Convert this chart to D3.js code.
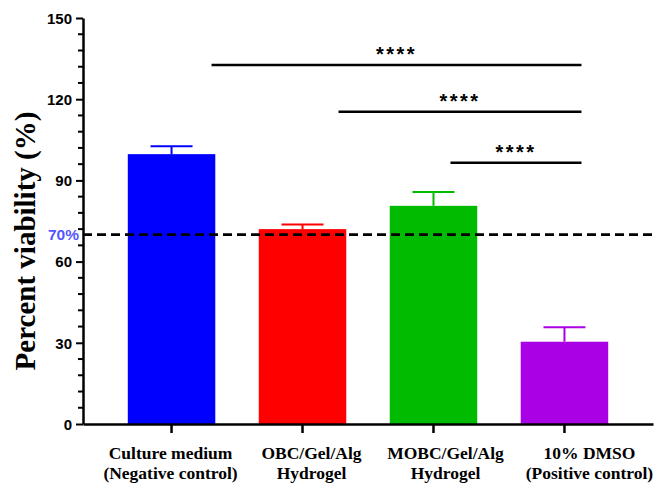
<!DOCTYPE html>
<html>
<head>
<meta charset="utf-8">
<script src="https://cdn.jsdelivr.net/npm/d3@7"></script>
<style>
  body { margin: 0; background: #fff; }
  svg { display: block; }
</style>
</head>
<body>
<div class="chart"></div>
<script>
// Data
var groups = ["Culture medium", "OBC/Gel/Alg", "MOBC/Gel/Alg", "10% DMSO"];
var groupSub = ["(Negative control)", "Hydrogel", "Hydrogel", "(Positive control)"];
var viability = [99.7, 72, 80.6, 30.4];
var errors = [2.9, 1.7, 5.1, 5.3];
var barColors = ["#0000ff", "#ff0000", "#00bb00", "#aa00e6"];
var yTicks = [0, 30, 60, 90, 120, 150];
var threshold = 70;
// significance brackets: from group, to group, height (in %)
var sigFrom = ["Culture medium", "OBC/Gel/Alg", "MOBC/Gel/Alg"];
var sigTo = ["10% DMSO", "10% DMSO", "10% DMSO"];
var sigLevel = [132.6, 115.4, 96.5];
var sigLabel = ["****", "****", "****"];

var svgWidth = 670;
var svgHeight = 489;

var svg = d3.select(".chart")
  .append("svg")
  .attr("width", svgWidth)
  .attr("height", svgHeight);

var plotLeft = 83, plotRight = 653, plotTop = 18, plotBottom = 424;

var x = d3.scaleBand()
  .domain(groups)
  .range([plotLeft, plotRight])
  .paddingInner(0.332)
  .paddingOuter(0.342);

var y = d3.scaleLinear()
  .domain([0, 150])
  .range([plotBottom, plotTop]);

var cx = d => x(d) + x.bandwidth() / 2;

// Bars
svg.append("g").selectAll("rect")
  .data(groups)
  .enter()
  .append("rect")
  .attr("x", d => x(d))
  .attr("y", (d, i) => y(viability[i]))
  .attr("width", x.bandwidth())
  .attr("height", (d, i) => y(0) - y(viability[i]))
  .attr("fill", (d, i) => barColors[i]);

// Error bars (upper only)
var eb = svg.append("g").selectAll("g")
  .data(groups)
  .enter()
  .append("g")
  .attr("stroke", (d, i) => barColors[i])
  .attr("stroke-width", 2);

eb.append("line")
  .attr("x1", cx)
  .attr("x2", cx)
  .attr("y1", (d, i) => y(viability[i]))
  .attr("y2", (d, i) => y(viability[i] + errors[i]));

eb.append("line")
  .attr("x1", d => cx(d) - 21)
  .attr("x2", d => cx(d) + 21)
  .attr("y1", (d, i) => y(viability[i] + errors[i]))
  .attr("y2", (d, i) => y(viability[i] + errors[i]));

// 70% threshold line
svg.append("line")
  .attr("x1", plotLeft)
  .attr("x2", 652)
  .attr("y1", y(threshold))
  .attr("y2", y(threshold))
  .attr("stroke", "#000")
  .attr("stroke-width", 2.8)
  .attr("stroke-dasharray", "9,5");

svg.append("text")
  .attr("x", plotLeft - 4)
  .attr("y", y(threshold) + 5.5)
  .attr("text-anchor", "end")
  .attr("font-family", "Liberation Sans, Arial, sans-serif")
  .attr("font-weight", "bold")
  .attr("font-size", 15.5)
  .attr("fill", "#5555ff")
  .text("70%");

// Y axis
var leftAxis = d3.axisLeft(y)
  .tickValues(yTicks)
  .tickSize(7)
  .tickSizeOuter(0)
  .tickPadding(4);

var yAxis = svg.append("g")
  .attr("transform", `translate(${plotLeft}, 0)`)
  .call(leftAxis);

yAxis.select(".domain").attr("stroke-width", 2.5);
yAxis.selectAll(".tick line").attr("stroke-width", 2);
yAxis.selectAll(".tick text")
  .attr("font-family", "Liberation Sans, Arial, sans-serif")
  .attr("font-weight", "bold")
  .attr("font-size", 15)
  .attr("fill", "#000")
  .attr("dy", "0.35em");

// minor ticks
var minor = d3.range(0, 151, 6).filter(v => v % 30 !== 0);
svg.append("g").selectAll("line")
  .data(minor)
  .enter()
  .append("line")
  .attr("x1", plotLeft - 5)
  .attr("x2", plotLeft)
  .attr("y1", d => y(d))
  .attr("y2", d => y(d))
  .attr("stroke", "#000")
  .attr("stroke-width", 2);

// X axis
var bottomAxis = d3.axisBottom(x)
  .tickSize(9)
  .tickSizeOuter(0)
  .tickFormat("");

var xAxis = svg.append("g")
  .attr("transform", `translate(0, ${plotBottom})`)
  .call(bottomAxis);

xAxis.select(".domain").attr("stroke-width", 2.5);
xAxis.selectAll(".tick line").attr("stroke-width", 2.5);

// X labels (two lines); the original labels sit a little right of their ticks
var labelShift = [-1, 9, 12, 25];
var xl = svg.append("g").selectAll("text")
  .data(groups)
  .enter()
  .append("text")
  .attr("text-anchor", "middle")
  .attr("font-family", "Liberation Serif, 'Times New Roman', serif")
  .attr("font-weight", "bold")
  .attr("font-size", 17.5)
  .attr("fill", "#000");

xl.append("tspan")
  .attr("x", (d, i) => cx(d) + labelShift[i])
  .attr("y", 459)
  .text(d => d);

xl.append("tspan")
  .attr("x", (d, i) => cx(d) + labelShift[i])
  .attr("y", 479)
  .text((d, i) => groupSub[i]);

// Y axis title
svg.append("text")
  .attr("transform", `translate(35, 241) rotate(-90)`)
  .attr("text-anchor", "middle")
  .attr("font-family", "Liberation Serif, 'Times New Roman', serif")
  .attr("font-weight", "bold")
  .attr("font-size", 29)
  .attr("fill", "#000")
  .text("Percent viability (%)");

// Significance brackets
var sig = svg.append("g").selectAll("g")
  .data(sigFrom)
  .enter()
  .append("g");

var fromOff = [40, 36, 17];
var sx1 = (d, i) => cx(d) + fromOff[i];
var sx2 = (d, i) => cx(sigTo[i]) + 17;

sig.append("line")
  .attr("x1", sx1)
  .attr("x2", sx2)
  .attr("y1", (d, i) => y(sigLevel[i]))
  .attr("y2", (d, i) => y(sigLevel[i]))
  .attr("stroke", "#000")
  .attr("stroke-width", 2.5);

sig.append("text")
  .attr("x", (d, i) => (sx1(d, i) + sx2(d, i)) / 2)
  .attr("y", (d, i) => y(sigLevel[i]) - 4)
  .attr("text-anchor", "middle")
  .attr("font-family", "Liberation Sans, Arial, sans-serif")
  .attr("font-weight", "bold")
  .attr("font-size", 20)
  .attr("letter-spacing", 2.5)
  .attr("fill", "#000")
  .text((d, i) => sigLabel[i]);
</script>
</body>
</html>
